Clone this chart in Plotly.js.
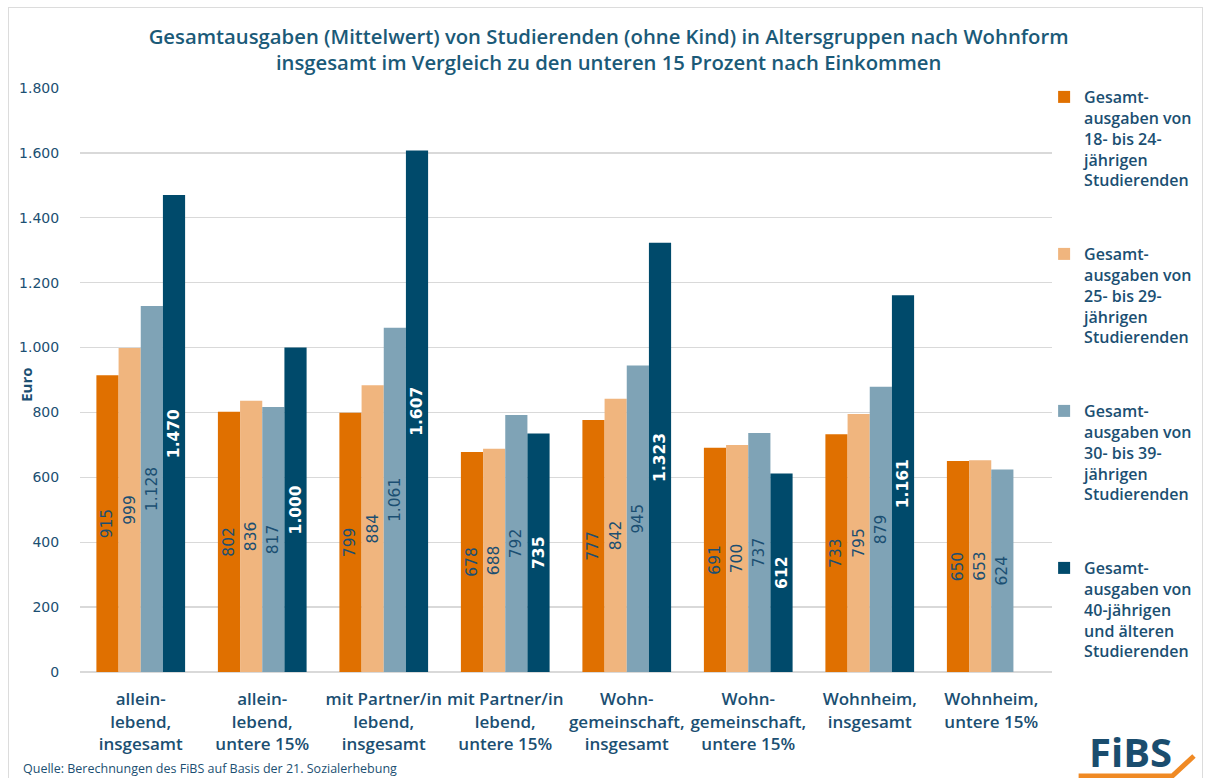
<!DOCTYPE html>
<html><head><meta charset="utf-8">
<script src="https://cdn.plot.ly/plotly-3.0.1.min.js"></script>
<style>
html,body{margin:0;padding:0;background:#fff;}
#wrap{position:relative;width:1210px;height:778px;overflow:hidden;}
#frame{position:absolute;left:8px;top:7px;width:1195px;height:820px;border:1.5px solid #dcdcdc;box-sizing:border-box;pointer-events:none;z-index:5;}
#chart{position:absolute;left:0;top:0;width:1210px;height:778px;}
</style></head>
<body><div id="wrap"><div id="chart"></div><div id="frame"></div></div>
<script>
const categories = [
  "allein-<br>lebend,<br>insgesamt",
  "allein-<br>lebend,<br>untere 15%",
  "mit Partner/in<br>lebend,<br>insgesamt",
  "mit Partner/in<br>lebend,<br>untere 15%",
  "Wohn-<br>gemeinschaft,<br>insgesamt",
  "Wohn-<br>gemeinschaft,<br>untere 15%",
  "Wohnheim,<br>insgesamt",
  "Wohnheim,<br>untere 15%"
];
const seriesNames = [
  "Gesamt-<br>ausgaben von<br>18- bis 24-<br>jährigen<br>Studierenden",
  "Gesamt-<br>ausgaben von<br>25- bis 29-<br>jährigen<br>Studierenden",
  "Gesamt-<br>ausgaben von<br>30- bis 39-<br>jährigen<br>Studierenden",
  "Gesamt-<br>ausgaben von<br>40-jährigen<br>und älteren<br>Studierenden"
];
const age18to24 = [915, 802, 799, 678, 777, 691, 733, 650];
const age25to29 = [999, 836, 884, 688, 842, 700, 795, 653];
const age30to39 = [1128, 817, 1061, 792, 945, 737, 879, 624];
const age40plus = [1470, 1000, 1607, 735, 1323, 612, 1161, null];
const yTicks = [0, 200, 400, 600, 800, 1000, 1200, 1400, 1600, 1800];

const seriesValues = [age18to24, age25to29, age30to39, age40plus];
const colors = ["#E07000", "#F0B57E", "#7FA3B6", "#004A6B"];
const dark = "#1B4F72";
const textColors = [dark, dark, dark, "#ffffff"];

const traces = seriesValues.map((vals, i) => ({
  type: "bar",
  name: seriesNames[i],
  legendgroup: "g" + i,
  x: categories,
  y: vals,
  marker: {color: colors[i]},
  texttemplate: "%{y:,.0f}",
  textposition: "inside",
  insidetextanchor: "middle",
  textangle: -90,
  constraintext: "none",
  textfont: {family: "DejaVu Sans", size: 15.5, color: textColors[i], weight: i === 3 ? "bold" : "normal"},
  hoverinfo: "skip"
}));

// helpers for paper coords (plot area 80..1066 x, 88..672 y)
const L = 80, R = 1066, T = 88, B = 672;
const px = v => (v - L) / (R - L);
const py = v => (B - v) / (B - T);

const layout = {
  width: 1210, height: 778,
  separators: ",.",
  paper_bgcolor: "#ffffff", plot_bgcolor: "#ffffff",
  margin: {l: L, r: 1210 - R, t: T, b: 778 - B, pad: 0},
  barmode: "group",
  bargap: 0.27,
  bargroupgap: 0,
  font: {family: "Open Sans", color: dark},
  title: {
    text: "Gesamtausgaben (Mittelwert) von Studierenden (ohne Kind) in Altersgruppen nach Wohnform<br>insgesamt im Vergleich zu den unteren 15 Prozent nach Einkommen",
    font: {family: "Open Sans", size: 20.3, color: "#1B5A78", weight: 600},
    x: 0.503, xanchor: "center", xref: "container",
    y: 0.944, yanchor: "top", yref: "container"
  },
  xaxis: {
    type: "category",
    tickfont: {family: "Open Sans", size: 17, color: dark, weight: 600},
    showgrid: false, zeroline: false, showline: false,
    ticks: "outside", ticklen: 12, tickcolor: "rgba(0,0,0,0)"
  },
  yaxis: {
    range: [0, 1800],
    tickvals: yTicks,
    tickformat: ",d",
    tickfont: {family: "DejaVu Sans", size: 14, color: dark},
    gridcolor: "#d9d9d9", gridwidth: 1.3,
    zeroline: true, zerolinecolor: "#d9d9d9", zerolinewidth: 1.3,
    showline: false,
    ticks: "outside", ticklen: 17, tickcolor: "rgba(0,0,0,0)"
  },
  showlegend: true,
  legend: {
    x: px(1058), xanchor: "left", y: py(80), yanchor: "top",
    traceorder: "grouped",
    tracegroupgap: 50,
    maxheight: 720,
    font: {family: "Open Sans", size: 16, color: dark, weight: 600},
    itemwidth: 30,
    bgcolor: "rgba(0,0,0,0)",
    valign: "top"
  },
  annotations: [
    {text: "Euro", xref: "paper", yref: "paper", x: px(25), y: py(385), xanchor: "center", yanchor: "middle",
     textangle: -90, showarrow: false, font: {family: "Open Sans", size: 15, color: dark, weight: 700}},
    {text: "Quelle: Berechnungen des FiBS auf Basis der 21. Sozialerhebung",
     xref: "paper", yref: "paper", x: px(20), y: py(768), xanchor: "left", yanchor: "middle",
     showarrow: false, font: {family: "Open Sans", size: 12.5, color: dark}},
    {text: "FiBS", xref: "paper", yref: "paper", x: px(1146), y: py(751), xanchor: "center", yanchor: "middle",
     showarrow: false, font: {family: "Open Sans", size: 40, color: "#1A4D6E", weight: 700}}
  ],
  shapes: [
    {type: "path", xref: "paper", yref: "paper",
     path: `M ${px(1093)},${py(776)} L ${px(1188)},${py(776)} L ${px(1210)},${py(756)}`,
     line: {color: "#F08A24", width: 5}}
  ]
};

Plotly.newPlot("chart", traces, layout, {displayModeBar: false, staticPlot: true});
</script></body></html>
